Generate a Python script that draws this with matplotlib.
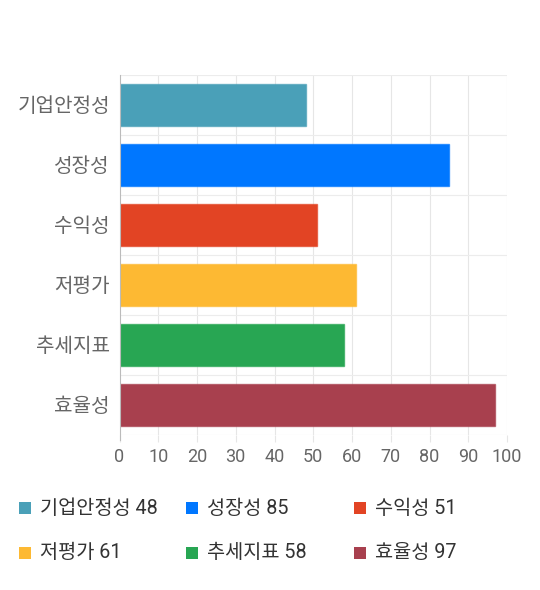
import matplotlib
matplotlib.use("Agg")
import matplotlib.pyplot as plt
from matplotlib.patches import Rectangle

categories = ["기업안정성", "성장성", "수익성", "저평가", "추세지표", "효율성"]
values = [48, 85, 51, 61, 58, 97]
colors = ["#4aa0b8", "#0077ff", "#e24424", "#fdb933", "#28a653", "#a8404e"]
x_ticks = [0, 10, 20, 30, 40, 50, 60, 70, 80, 90, 100]

FONT = ["Roboto", "Noto Sans CJK KR", "DejaVu Sans"]
plt.rcParams["font.family"] = FONT

W, H = 540, 590
fig = plt.figure(figsize=(W / 100, H / 100), dpi=100)
ax = fig.add_axes([119.5 / W, 1 - 435 / H, (507 - 119.5) / W, (435 - 75) / H])

y_pos = list(range(len(categories)))
ax.barh(y_pos, values, height=0.7, color=colors, edgecolor=[c + "aa" for c in colors],
        linewidth=1, zorder=3)

ax.set_xlim(0, 100)
ax.set_ylim(len(categories) - 0.5, -0.5)
ax.set_xticks(x_ticks)
ax.set_xticklabels([str(t) for t in x_ticks])
ax.set_yticks(y_pos)
ax.set_yticklabels(categories)
ax.tick_params(axis="x", length=5, color="#e6e6e6", labelsize=13, labelcolor="#666666", pad=4)
ax.tick_params(axis="y", length=0, labelsize=14.5, labelcolor="#666666", pad=7)

# grid: vertical every 10, horizontal at category boundaries
for t in x_ticks[1:]:
    ax.axvline(t, color="#e6e6e6", linewidth=0.8, zorder=0)
for b in range(len(categories) + 1):
    ax.axhline(b - 0.5, color="#ececec", linewidth=0.8, zorder=0)

for s in ["top", "right", "bottom"]:
    ax.spines[s].set_visible(False)
ax.spines["left"].set_color("#bbbbbb")
ax.spines["left"].set_linewidth(0.8)
ax.spines["left"].set_bounds(len(categories) - 0.5 + 0.08, -0.5)
ax.spines["left"].set_zorder(4)

# legend, 3 columns x 2 rows
col_x = [19, 186, 354]
row_y = [508, 553]
for i, (cat, val, col) in enumerate(zip(categories, values, colors)):
    cx = col_x[i % 3]
    cy = row_y[i // 3]
    fig.add_artist(Rectangle((cx / W, 1 - (cy + 6) / H), 12 / W, 12 / H,
                             transform=fig.transFigure, facecolor=col, edgecolor="none"))
    fig.text((cx + 21) / W, 1 - cy / H, f"{cat} {val}", fontsize=14.2, color="#333333",
             va="center", ha="left")

fig.savefig("out.png", dpi=100, facecolor="white")
